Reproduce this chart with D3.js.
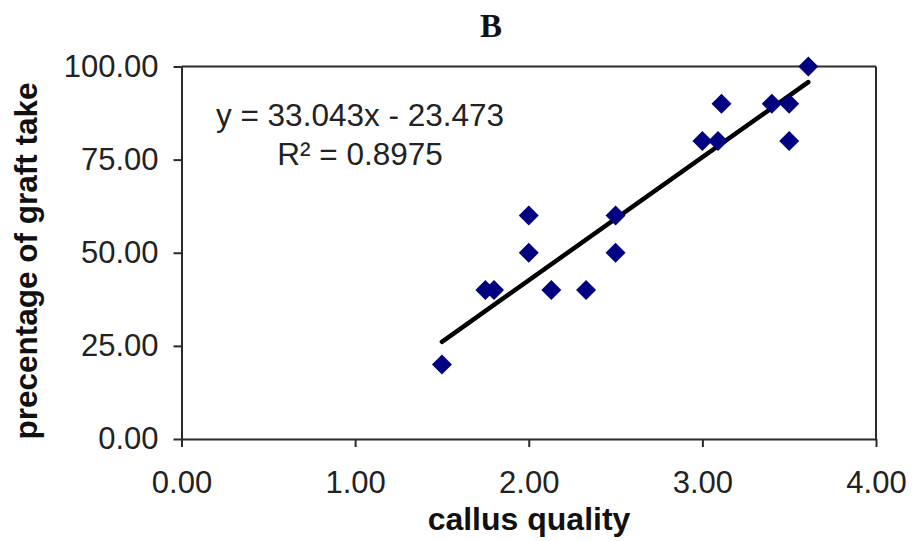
<!DOCTYPE html>
<html lang="en">

<head>
    <meta charset="utf-8">
    <!-- Load d3.js -->
    <script src="https://d3js.org/d3.v7.min.js"></script>
    <style>
        body {
            margin: 0;
            background: white;
        }

        .tick text {
            font-family: "Liberation Sans", Arial, sans-serif;
            font-size: 31px;
            fill: #222;
        }

        .axis-title {
            font-family: "Liberation Sans", Arial, sans-serif;
            font-weight: bold;
            fill: #111;
        }
    </style>
</head>

<body>
    <div id="chart"></div>

    <script>
        // data
        const callusQuality = [1.5, 1.75, 1.8, 2.0, 2.0, 2.13, 2.33, 2.5, 2.5, 3.0, 3.09, 3.11, 3.4, 3.5, 3.5, 3.61];
        const graftTake = [20, 40, 40, 60, 50, 40, 40, 60, 50, 80, 80, 90, 90, 90, 80, 100];

        // trendline from the chart label
        const slope = 33.043;
        const intercept = -23.473;
        const rSquared = "0.8975";

        const xTicks = [0, 1, 2, 3, 4];
        const yTicks = [0, 25, 50, 75, 100];

        const points = callusQuality.map((x, i) => ({ x: x, y: graftTake[i] }));

        const W = 915, H = 541;
        const margin = { top: 66.5, right: 39, bottom: 102, left: 181.5 };
        const width = W - margin.left - margin.right;
        const height = H - margin.top - margin.bottom;

        const svg = d3.select("#chart")
            .append("svg")
            .attr("width", W)
            .attr("height", H);

        const g = svg.append("g")
            .attr("transform", `translate(${margin.left},${margin.top})`);

        const x = d3.scaleLinear().domain([0, 4]).range([0, width]);
        const y = d3.scaleLinear().domain([0, 100]).range([height, 0]);

        // axes
        const xAxis = g.append("g")
            .attr("transform", `translate(0,${height})`)
            .call(d3.axisBottom(x).tickValues(xTicks).tickSize(8).tickSizeOuter(0).tickPadding(24)
                .tickFormat(d3.format(".2f")));

        const yAxis = g.append("g")
            .call(d3.axisLeft(y).tickValues(yTicks).tickSize(8).tickSizeOuter(0).tickPadding(15)
                .tickFormat(d3.format(".2f")));

        [xAxis, yAxis].forEach(a => {
            a.selectAll("path, line").attr("stroke", "#2a2a2a").attr("stroke-width", 2);
            a.attr("font-size", null).attr("font-family", null);
        });

        // top and right frame lines
        g.append("line")
            .attr("x1", x(0)).attr("x2", x(4))
            .attr("y1", y(100)).attr("y2", y(100))
            .attr("stroke", "#2a2a2a").attr("stroke-width", 2);
        g.append("line")
            .attr("x1", x(4)).attr("x2", x(4))
            .attr("y1", y(100)).attr("y2", y(0))
            .attr("stroke", "#2a2a2a").attr("stroke-width", 2);

        // trendline over the data range
        const xExt = d3.extent(callusQuality);
        g.append("line")
            .attr("x1", x(xExt[0])).attr("y1", y(slope * xExt[0] + intercept))
            .attr("x2", x(xExt[1])).attr("y2", y(slope * xExt[1] + intercept))
            .attr("stroke", "black")
            .attr("stroke-width", 4.5)
            .attr("stroke-linecap", "round");

        // diamond markers
        g.selectAll("path.pt")
            .data(points)
            .join("path")
            .attr("class", "pt")
            .attr("d", "M0,-10L10,0L0,10L-10,0Z")
            .attr("transform", d => `translate(${x(d.x)},${y(d.y)})`)
            .attr("fill", "#000080");

        // equation label
        const eq = svg.append("text")
            .attr("text-anchor", "middle")
            .style("font-family", "'Liberation Sans', Arial, sans-serif")
            .style("font-size", "31.5px")
            .attr("fill", "#222");
        eq.append("tspan").attr("x", 360).attr("y", 126)
            .text(`y = ${slope}x - ${Math.abs(intercept)}`);
        eq.append("tspan").attr("x", 360).attr("y", 165)
            .text(`R² = ${rSquared}`);

        // title
        svg.append("text")
            .attr("x", 491)
            .attr("y", 37)
            .attr("text-anchor", "middle")
            .style("font-family", "'Liberation Serif', 'Times New Roman', serif")
            .style("font-weight", "bold")
            .style("font-size", "33px")
            .attr("fill", "#111")
            .text("B");

        // axis titles
        svg.append("text")
            .attr("class", "axis-title")
            .attr("x", 529)
            .attr("y", 530)
            .attr("text-anchor", "middle")
            .style("font-size", "32px")
            .text("callus quality");

        svg.append("text")
            .attr("class", "axis-title")
            .attr("text-anchor", "middle")
            .attr("transform", "translate(37,261) rotate(-90)")
            .style("font-size", "31.5px")
            .text("precentage of graft take");
    </script>

</body>

</html>
